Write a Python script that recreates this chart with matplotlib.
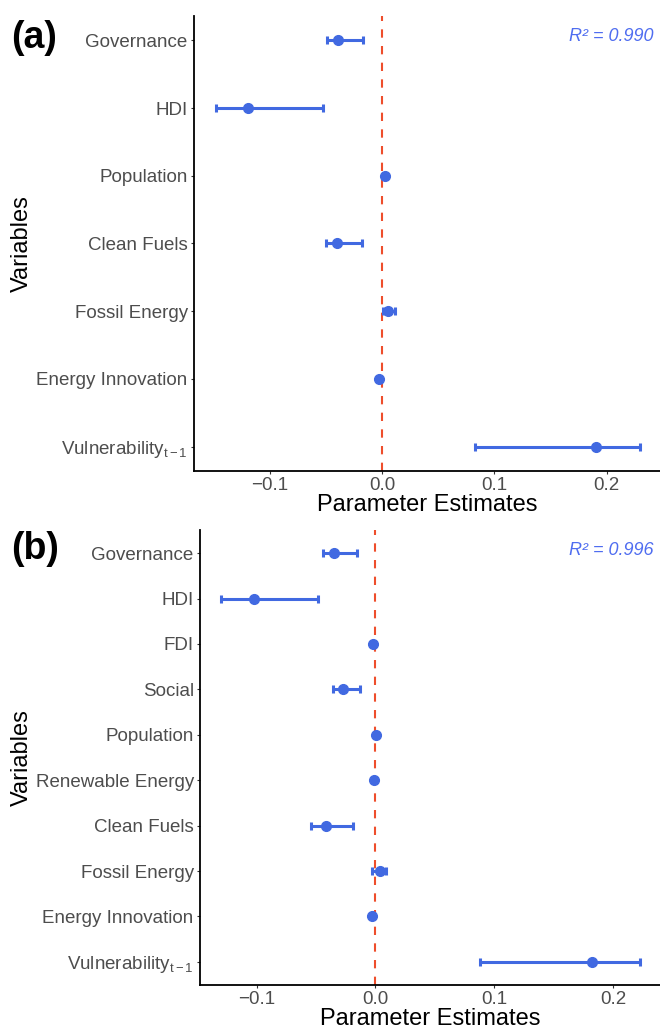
import matplotlib
matplotlib.use("Agg")
from matplotlib import pyplot as plt

plt.rcParams["font.family"] = ["Liberation Sans", "DejaVu Sans"]
plt.rcParams["mathtext.fontset"] = "custom"
plt.rcParams["mathtext.rm"] = "Liberation Sans"
plt.rcParams["mathtext.it"] = "Liberation Sans:italic"

# Panel (a)
vars_a = ["Governance", "HDI", "Population", "Clean Fuels", "Fossil Energy",
          "Energy Innovation", r"Vulnerability$_{\mathrm{t-1}}$"]
est_a = [-0.039, -0.119, 0.0026, -0.040, 0.0056, -0.0026, 0.1906]
low_a = [-0.0494, -0.148, 0.0012, -0.050, 0.0005, -0.0035, 0.0828]
high_a = [-0.0169, -0.0524, 0.0040, -0.018, 0.0112, -0.0017, 0.2296]
r2_a = "0.990"

# Panel (b)
vars_b = ["Governance", "HDI", "FDI", "Social", "Population", "Renewable Energy",
          "Clean Fuels", "Fossil Energy", "Energy Innovation", r"Vulnerability$_{\mathrm{t-1}}$"]
est_b = [-0.0348, -0.1019, -0.0020, -0.0277, 0.0007, -0.0010, -0.042, 0.0035, -0.0030, 0.182]
low_b = [-0.044, -0.130, -0.0028, -0.036, 0.0000, -0.0018, -0.054, -0.0025, -0.0038, 0.0877]
high_b = [-0.0156, -0.048, -0.0012, -0.013, 0.0014, -0.0002, -0.019, 0.0085, -0.0022, 0.223]
r2_b = "0.996"

xticks = [-0.1, 0.0, 0.1, 0.2]
xticklabels = ["\u22120.1", "0.0", "0.1", "0.2"]

blue = "#4169E1"
red = "#EE4E2C"

W, H = 660, 1029
figure = plt.figure(figsize=(W / 100, H / 100), dpi=100)


def forest(rect, names, est, low, high, xlim, pad, r2, tag, tag_y):
    axes = figure.add_axes(rect)
    ypos = list(range(len(names)))
    xerr = [[e - l for e, l in zip(est, low)], [h - e for e, h in zip(est, high)]]
    axes.axvline(0, color=red, lw=1.5, linestyle=(0, (4, 4)), zorder=1)
    axes.errorbar(est, ypos, xerr=xerr, fmt="o", color=blue, ms=7, lw=2.2,
                  capsize=3, capthick=2.2, zorder=3)
    axes.set_yticks(ypos)
    axes.set_yticklabels(names, fontsize=13.5, color="#4D4D4D")
    axes.set_ylim(len(names) - 1 + pad, -pad)
    axes.set_xlim(*xlim)
    axes.set_xticks(xticks)
    axes.set_xticklabels(xticklabels, fontsize=13.5, color="#4D4D4D")
    axes.set_xlabel("Parameter Estimates", fontsize=17, labelpad=0)
    axes.set_ylabel("Variables", fontsize=17)
    # y title: its right edge sits ~33 px from the figure's left side
    left_px = rect[0] * W
    width_px = rect[2] * W
    axes.yaxis.set_label_coords((33 - left_px) / width_px, 0.5)
    axes.spines["top"].set_visible(False)
    axes.spines["right"].set_visible(False)
    axes.spines["left"].set_linewidth(1.3)
    axes.spines["bottom"].set_linewidth(1.3)
    axes.tick_params(length=2.5, width=0.8, color="#333333", pad=2)
    axes.text(0.985, 0.955, "R\u00b2 = " + r2, transform=axes.transAxes, ha="right",
              va="center", fontsize=13, style="italic", color="#4F6DF0")
    figure.text(11 / W, tag_y, tag, fontsize=27, fontweight="bold", ha="left", va="center")
    return axes


forest([194 / W, 1 - 471 / H, 1 - 194 / W, (471 - 16) / H], vars_a, est_a, low_a, high_a,
       (-0.1674, 0.2476), 0.36, r2_a, "(a)", 1 - 38 / H)
forest([200 / W, 1 - 985 / H, 1 - 200 / W, (985 - 530) / H], vars_b, est_b, low_b, high_b,
       (-0.1477, 0.2396), 0.51, r2_b, "(b)", 1 - 549 / H)

figure.savefig("out.png", dpi=100)
